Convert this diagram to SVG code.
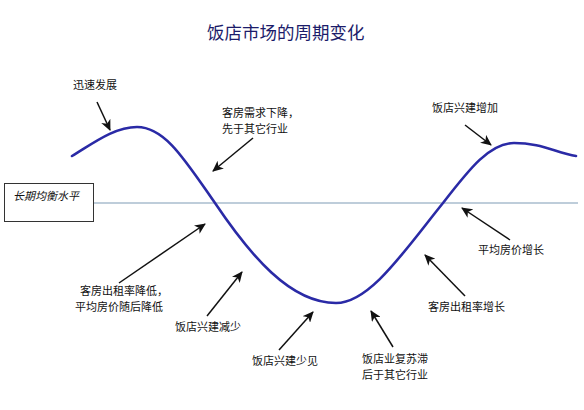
<svg xmlns="http://www.w3.org/2000/svg" width="584" height="410" viewBox="0 0 584 410">
<style>
.lbl{font-family:"Noto Sans CJK SC","Liberation Serif",serif;font-size:11px;fill:#111}
.title{font-family:"Noto Sans CJK SC","Liberation Sans",sans-serif;font-size:17.5px;fill:#1c1c6a}
.arr{stroke:#111;stroke-width:1.5;fill:none;marker-end:url(#ah)}
</style>
<defs>
<marker id="ah" markerUnits="userSpaceOnUse" markerWidth="12" markerHeight="10" refX="10" refY="5" orient="auto">
<path d="M0,0 L11,5 L0,10 L3,5 Z" fill="#111"/>
</marker>
</defs>
<rect width="584" height="410" fill="#fff"/>
<text class="title" x="207" y="39">饭店市场的周期变化</text>
<g id="baseline">
<line x1="94" y1="203" x2="578" y2="203" stroke="#7f9bb5" stroke-width="1.2"/>
</g>
<g id="box">
<rect x="4.5" y="183.5" width="89" height="38" fill="#fff" stroke="#333" stroke-width="1"/>
<text class="lbl" x="13" y="200" font-style="italic" font-size="11.5">长期均衡水平</text>
</g>
<g id="curve">
<path d="M72,156 C95,142 115,127 137,127 C165,127 185,160 215,203 C250,255 290,303 336,303 C370,303 405,250 443,203 C470,168 490,143 514,143 C540,143 555,152 576,156" fill="none" stroke="#2a2aa6" stroke-width="2.6" stroke-linecap="round"/>
</g>
<g id="connectors">
<line class="arr" x1="97" y1="102" x2="110" y2="130"/>
<line class="arr" x1="253" y1="138" x2="213" y2="171"/>
<line class="arr" x1="465" y1="125" x2="491" y2="145"/>
<line class="arr" x1="119" y1="283" x2="205" y2="224"/>
<line class="arr" x1="207" y1="316" x2="242" y2="272"/>
<line class="arr" x1="279" y1="350" x2="313" y2="312"/>
<line class="arr" x1="393" y1="347" x2="371" y2="311"/>
<line class="arr" x1="510" y1="240" x2="462" y2="208"/>
<line class="arr" x1="465" y1="296" x2="425" y2="255"/>
</g>
<g id="n1"><text class="lbl" x="73" y="89">迅速发展</text></g>
<g id="n2"><text class="lbl" x="222" y="117">客房需求下降，</text><text class="lbl" x="222" y="133">先于其它行业</text></g>
<g id="n3"><text class="lbl" x="432" y="112">饭店兴建增加</text></g>
<g id="n4"><text class="lbl" x="80" y="295">客房出租率降低，</text><text class="lbl" x="75" y="311">平均房价随后降低</text></g>
<g id="n5"><text class="lbl" x="175" y="331">饭店兴建减少</text></g>
<g id="n6"><text class="lbl" x="252" y="365">饭店兴建少见</text></g>
<g id="n7"><text class="lbl" x="362" y="363">饭店业复苏滞</text><text class="lbl" x="362" y="379">后于其它行业</text></g>
<g id="n8"><text class="lbl" x="478" y="254">平均房价增长</text></g>
<g id="n9"><text class="lbl" x="428" y="311">客房出租率增长</text></g>
</svg>
